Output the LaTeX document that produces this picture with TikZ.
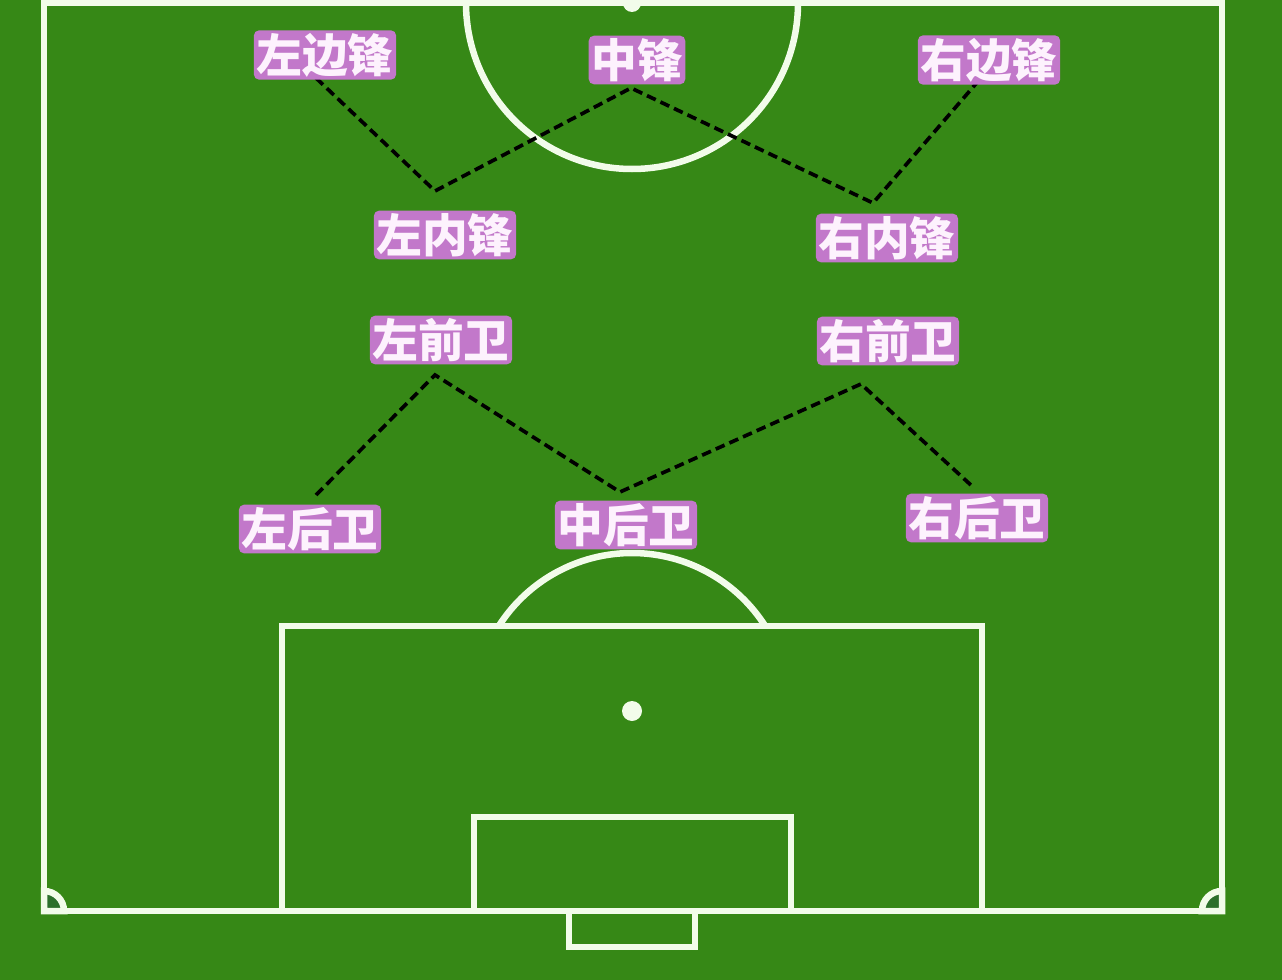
\documentclass[tikz,border=0pt]{standalone}
\usepackage{fontspec}
\newfontfamily\cjk{Noto Sans CJK SC}
\definecolor{pitch}{RGB}{54,136,22}
\definecolor{pitchdark}{RGB}{44,112,44}
\definecolor{chalk}{RGB}{242,252,234}
\definecolor{tagpurple}{RGB}{194,120,202}
\definecolor{tagwhite}{RGB}{253,242,253}
\begin{document}
\begin{tikzpicture}[x=.02cm, y=-.02cm,
	chalk line/.style={draw=chalk, line width=3.7pt},
	run/.style={draw=black, line width=2.1pt, dash pattern=on 5.5pt off 3pt},
	role/.style={fill=tagpurple, text=tagwhite, rounded corners=3pt, inner sep=1.5pt,
		font=\cjk\bfseries\fontsize{26}{26}\selectfont}]
	\useasboundingbox (0,0) rectangle (1282,980);
	\fill[pitch] (0,0) rectangle (1282,980);
	\begin{scope}
		\clip (0,0) rectangle (1282,980);
		\draw[chalk line] (44,3) rectangle (1222,911);
		\draw[chalk line] (632,3) circle[radius=166];
		\fill[chalk]      (632,3) circle[radius=9];
	\end{scope}
	\coordinate (spot) at (632,711);
	\draw[chalk line]   (282,626) rectangle (982,911);
	\draw[chalk line]   (474,817) rectangle (791,911);
	\draw[chalk line]   (569,911) rectangle (695,947);
	\fill[chalk]        (spot) circle[radius=10];
	\draw[chalk line]   (spot) ++(212.5:158) arc[start angle=212.5, end angle=327.5, radius=158];
	\filldraw[chalk line, fill=pitchdark] (44,911)   -- ++(20,0)  arc[start angle=0,   end angle=-90, radius=20] -- cycle;
	\filldraw[chalk line, fill=pitchdark] (1222,911) -- ++(-20,0) arc[start angle=180, end angle=270, radius=20] -- cycle;
	\coordinate (lw-run) at (316,78);
	\coordinate (li-run) at (435,191);
	\coordinate (cf-run) at (631,88);
	\coordinate (ri-run) at (873,203);
	\coordinate (rw-run) at (980,79);
	\coordinate (lb-run) at (316,495);
	\coordinate (lh-run) at (435,375);
	\coordinate (cb-run) at (620,492);
	\coordinate (rh-run) at (861,384);
	\coordinate (rb-run) at (973,487);
	\draw[run] (lw-run) -- (li-run) -- (cf-run) -- (ri-run) -- (rw-run);
	\draw[run] (lb-run) -- (lh-run) -- (cb-run) -- (rh-run) -- (rb-run);
	\node[role] (lw) at (325,55)  {左边锋};
	\node[role] (cf) at (637,60)  {中锋};
	\node[role] (rw) at (989,60)  {右边锋};
	\node[role] (li) at (445,235) {左内锋};
	\node[role] (ri) at (887,238) {右内锋};
	\node[role] (lh) at (441,340) {左前卫};
	\node[role] (rh) at (888,341) {右前卫};
	\node[role] (lb) at (310,529) {左后卫};
	\node[role] (cb) at (626,525) {中后卫};
	\node[role] (rb) at (977,518) {右后卫};
\end{tikzpicture}
\end{document}
